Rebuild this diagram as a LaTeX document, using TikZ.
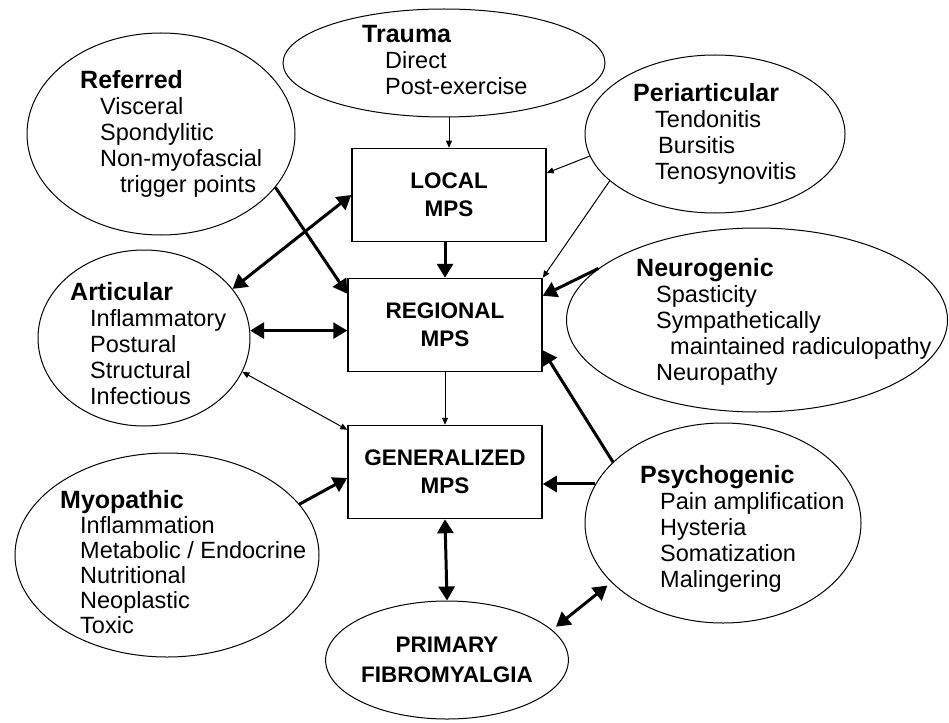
\documentclass[tikz,border=0pt]{standalone}
\usepackage{fontspec}
\setmainfont{Liberation Sans}
\usetikzlibrary{shapes.geometric,arrows.meta}
\newcommand{\ind}{\hspace*{20pt}}
\newcommand{\heading}[1]{{\fontsize{25}{26}\selectfont\bfseries #1}}

\begin{document}
\begin{tikzpicture}[x=1pt,y=-1pt]
        \tikzstyle{cause} = [ellipse, draw, line width=1pt, inner sep=0pt]
        \tikzstyle{causetext} = [anchor=north west, inner sep=0pt, align=left, font=\fontsize{23.5}{26}\selectfont]
        \tikzstyle{stage} = [rectangle, draw, line width=1.5pt, minimum width=194pt, minimum height=93pt, align=center, font=\fontsize{22.5}{28}\selectfont\bfseries]
        \tikzstyle{boldarr} = [line width=3pt, -{Triangle[length=14pt,width=16pt]}]
        \tikzstyle{boldboth} = [line width=3pt, {Triangle[length=14pt,width=16pt]}-{Triangle[length=14pt,width=16pt]}]
        \tikzstyle{thinarr} = [line width=1pt, -{Triangle[length=7pt,width=6pt]}]
        \tikzstyle{thinboth} = [line width=1pt, {Triangle[length=7pt,width=6pt]}-{Triangle[length=7pt,width=6pt]}]
        \useasboundingbox (0,0) rectangle (949,722);

        % the three stages
        \node[stage] (local) at (449,195) {LOCAL\\MPS};
        \node[stage] (regional) at (445,325) {REGIONAL\\MPS};
        \node[stage] (generalized) at (445,472) {GENERALIZED\\MPS};
        \node[cause, minimum width=242pt, minimum height=118pt, align=center, font=\fontsize{22.5}{30}\selectfont\bfseries] (primary) at (447,660) {PRIMARY\\FIBROMYALGIA};

        % causes
        \node[cause, minimum width=268pt, minimum height=202pt] (referred) at (161,134) {};
        \node[causetext] (referredtxt) at (80,70) {\heading{Referred}\\\ind Visceral\\\ind Spondylitic\\\ind Non-myofascial\\\ind\ind trigger points};
        \node[cause, minimum width=322pt, minimum height=108pt] (trauma) at (444,63) {};
        \node[causetext] (traumatxt) at (362,25) {\heading{Trauma}\\\hspace*{23pt}Direct\\\hspace*{23pt}Post-exercise};
        \node[cause, minimum width=260pt, minimum height=158pt] (periarticular) at (715,134) {};
        \node[causetext] (periarticulartxt) at (633,83) {\heading{Periarticular}\\\hspace*{22pt}Tendonitis\\\hspace*{25pt}Bursitis\\\hspace*{22pt}Tenosynovitis};
        \node[cause, minimum width=381pt, minimum height=184pt] (neurogenic) at (757,320) {};
        \node[causetext] (neurogenictxt) at (636,258) {\heading{Neurogenic}\\\ind Spasticity\\\ind Sympathetically\\\hspace*{34pt}maintained radiculopathy\\\ind Neuropathy};
        \node[cause, minimum width=212pt, minimum height=176pt] (articular) at (144,338) {};
        \node[causetext] (articulartxt) at (70,282) {\heading{Articular}\\\ind Inflammatory\\\ind Postural\\\ind Structural\\\ind Infectious};
        \node[cause, minimum width=304pt, minimum height=204pt] (myopathic) at (167,555) {};
        \node[causetext, font=\fontsize{23.5}{25}\selectfont] (myopathictxt) at (60,490) {\heading{Myopathic}\\\ind Inflammation\\\ind Metabolic / Endocrine\\\ind Nutritional\\\ind Neoplastic\\\ind Toxic};
        \node[cause, minimum width=276pt, minimum height=200pt] (psychogenic) at (723,523) {};
        \node[causetext] (psychogenictxt) at (640,465) {\heading{Psychogenic}\\\ind Pain amplification\\\ind Hysteria\\\ind Somatization\\\ind Malingering};

        % down the stages
        \draw[thinarr] (local.north |- trauma.south) -- (local.north);
        \draw[boldarr] (local.south -| regional.north) -- (regional.north);
        \draw[thinarr] (regional.south) -- (generalized.north);
        \draw[boldboth] (generalized.south) -- (primary.north);

        % from the causes
        \draw[boldarr] (referred.-25) -- ([yshift=-16pt]regional.north west);
        \draw[boldboth] (articular.29) -- (local.west);
        \draw[boldboth] (articular.4) -- (articular.4 -| regional.west);
        \draw[thinboth] (articular.-19) -- ([yshift=-5pt]generalized.north west);
        \draw[boldarr] (myopathic.21) -- ([yshift=-6pt]generalized.west);
        \draw[thinarr] (periarticular.190) -- ([yshift=22pt]local.east);
        \draw[thinarr] (periarticular.204) -- (regional.north east);
        \draw[boldarr] (neurogenic.162) -- ([yshift=-18pt]regional.north east);
        \draw[boldarr] (psychogenic.151) -- ([yshift=22pt]regional.south east);
        \draw[boldarr] (psychogenic.163) -- (psychogenic.163 -| generalized.east);
        \draw[boldboth, shorten <=5pt, shorten >=5pt] (psychogenic.208) -- (primary.16);
\end{tikzpicture}
\end{document}
